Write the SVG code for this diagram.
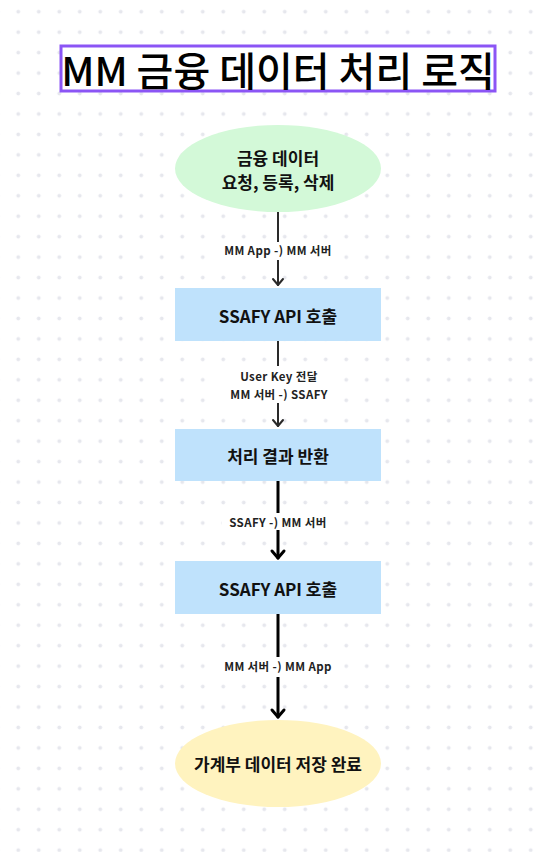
<svg xmlns="http://www.w3.org/2000/svg" width="534" height="852" viewBox="0 0 534 852">
<defs>
<pattern id="dots" x="8" y="1.5" width="20.5" height="20.45" patternUnits="userSpaceOnUse">
<circle cx="10.25" cy="10.2" r="1.9" fill="#e6e7ed"/>
</pattern>
<style>
.node text{font-family:"Noto Sans CJK KR","Noto Sans",sans-serif;font-weight:700;font-size:17px;fill:#111;text-anchor:middle;dominant-baseline:central}
.lbl{font-family:"Noto Sans CJK KR","Noto Sans",sans-serif;font-weight:700;font-size:11.5px;letter-spacing:0.4px;fill:#222;text-anchor:middle;dominant-baseline:central}
.lblbg{fill:#ffffff}
.rect{fill:#bfe2fc}
.thin{stroke:#2a2a2a;stroke-width:2;fill:none;stroke-linecap:round;stroke-linejoin:round}
.thick{stroke:#000;stroke-width:3;fill:none;stroke-linecap:round;stroke-linejoin:round}
</style>
</defs>
<rect width="534" height="852" fill="#ffffff"/>
<rect width="534" height="852" fill="url(#dots)"/>

<g id="title">
<rect x="61" y="46" width="434" height="45" fill="#ffffff" stroke="#8b55f5" stroke-width="3"/>
<text x="278" y="69" font-family="'Noto Sans CJK KR','Noto Sans',sans-serif" font-size="40" font-weight="500" fill="#000" text-anchor="middle" dominant-baseline="central">MM 금융 데이터 처리 로직</text>
</g>

<g id="connectors">
<line class="thin" x1="278" y1="212" x2="278" y2="285"/>
<path class="thin" d="M273,279 L278,285 L283,279"/>
<line class="thin" x1="278" y1="341" x2="278" y2="426"/>
<path class="thin" d="M273,420 L278,426 L283,420"/>
<line class="thick" x1="278" y1="481" x2="278" y2="558"/>
<path class="thick" d="M272,551 L278,558 L284,551"/>
<line class="thick" x1="278" y1="614" x2="278" y2="717"/>
<path class="thick" d="M272,710 L278,717 L284,710"/>
<rect class="lblbg" x="218" y="242" width="120" height="18"/>
<text class="lbl" x="278" y="250">MM App -) MM 서버</text>
<rect class="lblbg" x="218" y="366" width="122" height="37"/>
<text class="lbl" x="279" y="376">User Key 전달</text>
<text class="lbl" x="279" y="394">MM 서버 -) SSAFY</text>
<rect class="lblbg" x="222" y="513" width="112" height="17"/>
<text class="lbl" x="278" y="522">SSAFY -) MM 서버</text>
<rect class="lblbg" x="212" y="657" width="132" height="20"/>
<text class="lbl" x="278" y="666">MM 서버 -) MM App</text>
</g>

<g id="start" class="node">
<ellipse cx="278" cy="168.5" rx="103" ry="43.5" fill="#d3f9d8"/>
<text x="278" y="157">금융 데이터</text>
<text x="278" y="181">요청, 등록, 삭제</text>
</g>
<g id="call1" class="node">
<rect class="rect" x="175" y="288" width="206" height="53"/>
<text x="278" y="315">SSAFY API 호출</text>
</g>
<g id="result" class="node">
<rect class="rect" x="175" y="429" width="206" height="52"/>
<text x="278" y="455">처리 결과 반환</text>
</g>
<g id="call2" class="node">
<rect class="rect" x="175" y="561" width="206" height="53"/>
<text x="278" y="588">SSAFY API 호출</text>
</g>
<g id="end" class="node">
<ellipse cx="278" cy="763.5" rx="103" ry="43.5" fill="#fff3bf"/>
<text x="278" y="763">가계부 데이터 저장 완료</text>
</g>
</svg>
